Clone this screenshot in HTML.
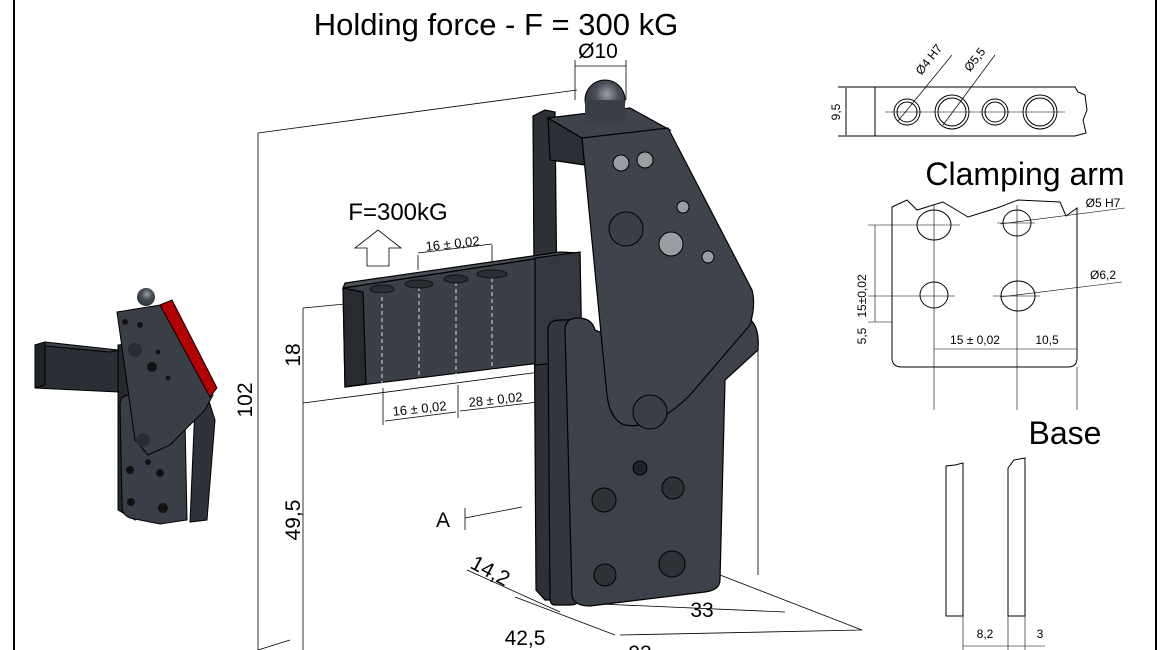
<!DOCTYPE html>
<html><head><meta charset="utf-8"><style>
html,body{margin:0;padding:0;background:#fff;}
svg{display:block;font-family:"Liberation Sans","DejaVu Sans",sans-serif;}
</style></head><body>
<svg width="1170" height="650" viewBox="0 0 1170 650" xmlns="http://www.w3.org/2000/svg">
<defs>
<radialGradient id="ball" cx="0.55" cy="0.35" r="0.7"><stop offset="0" stop-color="#9aa0a8"/><stop offset="0.4" stop-color="#4a4f58"/><stop offset="1" stop-color="#2a2d33"/></radialGradient>
</defs>
<rect width="1170" height="650" fill="#fff"/>
<line x1="14" y1="0" x2="14" y2="650" stroke="#000" stroke-width="2"/>
<line x1="1156" y1="0" x2="1156" y2="650" stroke="#000" stroke-width="2"/>

<text x="496" y="35" font-size="31" text-anchor="middle">Holding force - F = 300 kG</text>

<!-- small iso view -->
<g stroke="#000" stroke-width="1">
<polygon points="118,345 135,343 135,520 118,510" fill="#25282d"/>
<polygon points="35,345 110,352 118,350 118,392 35,388" fill="#2b2e34"/>
<polygon points="35,345 45,342 118,350 110,352" fill="#3c4048"/>
<polygon points="35,345 45,342 45,385 35,388" fill="#1f2226"/>
<polygon points="195,405 208,398 215,420 207,520 190,522" fill="#2f3238"/>
<path d="M120,405 Q120,395 130,395 L185,420 L187,520 L160,524 L130,518 Q122,515 122,505 Z" fill="#3a3e46"/>
<polygon points="117,312 160,305 213,395 205,410 170,445 148,455 135,440" fill="#3a3e46"/>
<polygon points="160,305 172,300 217,388 210,397" fill="#b30000"/>
</g>
<circle cx="146" cy="297" r="9" fill="url(#ball)"/>
<g fill="#111"><circle cx="125" cy="322" r="3"/><circle cx="140" cy="325" r="3"/><circle cx="135" cy="350" r="7" fill="#2a2c31"/><circle cx="152" cy="367" r="5"/><circle cx="158" cy="352" r="2.5"/><circle cx="168" cy="378" r="2.5"/><circle cx="143" cy="440" r="7" fill="#2a2c31"/><circle cx="130" cy="470" r="4"/><circle cx="160" cy="473" r="4"/><circle cx="131" cy="502" r="4"/><circle cx="163" cy="508" r="5"/><circle cx="148" cy="462" r="3"/></g>

<!-- main dims lines -->
<g stroke="#000" stroke-width="0.8" fill="none">
<line x1="258" y1="133" x2="577" y2="90"/>
<line x1="258" y1="133" x2="258" y2="650"/>
<line x1="303" y1="308" x2="303" y2="650"/>
<line x1="303" y1="308" x2="345" y2="304"/>
<line x1="303" y1="403" x2="540" y2="372"/>
<line x1="383" y1="388" x2="383" y2="425"/>
<line x1="458" y1="385" x2="458" y2="418"/>
<line x1="385" y1="421" x2="456" y2="412"/>
<line x1="460" y1="411" x2="600" y2="395"/>
<line x1="758" y1="340" x2="758" y2="575"/>
<line x1="575" y1="60" x2="575" y2="100"/>
<line x1="626" y1="60" x2="626" y2="100"/>
<line x1="575" y1="66" x2="626" y2="66"/>
<line x1="418" y1="255" x2="418" y2="270"/>
<line x1="492" y1="245" x2="492" y2="268"/>
<line x1="418" y1="253" x2="492" y2="244"/>
<line x1="465" y1="508" x2="465" y2="530"/>
<line x1="465" y1="518" x2="522" y2="507"/>
<line x1="467" y1="570" x2="560" y2="612"/>
<line x1="515" y1="597" x2="615" y2="635"/>
<line x1="565" y1="603" x2="585" y2="604"/>
<line x1="620" y1="635" x2="862" y2="630"/>
<line x1="720" y1="575" x2="862" y2="630"/>
<line x1="600" y1="604" x2="785" y2="612"/>
<line x1="258" y1="650" x2="290" y2="640"/>
</g>
<g font-size="21">
<text transform="translate(252,400) rotate(-90)" text-anchor="middle">102</text>
<text transform="translate(300,355) rotate(-90)" text-anchor="middle">18</text>
<text transform="translate(300,520) rotate(-90)" text-anchor="middle">49,5</text>
<text x="443" y="527" text-anchor="middle">A</text>
<text transform="translate(487,577) rotate(28)" text-anchor="middle">14,2</text>
<text x="525" y="645" text-anchor="middle">42,5</text>
<text x="702" y="617" text-anchor="middle">33</text>
<text x="640" y="660" text-anchor="middle">92</text>
<text x="598" y="58" text-anchor="middle">Ø10</text>
</g>
<text x="398" y="220" font-size="24" text-anchor="middle">F=300kG</text>
<polygon points="378,230 401,248 389,248 389,266 367,266 367,248 355,248" fill="#fff" stroke="#000" stroke-width="0.8"/>
<text x="453" y="248" font-size="13" text-anchor="middle" transform="rotate(-6 453 248)">16 ± 0,02</text>
<text x="420" y="413" font-size="13" text-anchor="middle" transform="rotate(-6 420 413)">16 ± 0,02</text>
<text x="496" y="404" font-size="13" text-anchor="middle" transform="rotate(-6 496 404)">28 ±  0,02</text>

<!-- main part -->
<g stroke="#000" stroke-width="1.2">
<polygon points="533,116 545,110 555,112 560,600 545,600 536,590" fill="#2d3036"/>
<polygon points="343,288 540,258 580,253 580,360 540,363 345,387" fill="#3b3f47"/>
<polygon points="343,288 363,292 366,384 345,387" fill="#272a2f"/>
<polygon points="343,288 540,258 580,253 560,252 345,283" fill="#4a4f58"/>
<polygon points="535,258 580,252 582,360 535,365" fill="#34373e"/>
<polygon points="548,118 630,108 670,130 585,140" fill="#3f434b"/>
<polygon points="548,118 585,140 585,165 550,160" fill="#2c2f35"/>
<path d="M548,330 Q548,320 560,320 L575,320 L578,600 Q578,605 570,605 L555,605 Q550,605 550,598 Z" fill="#33363c"/>
<path d="M565,330 Q565,318 578,318 Q592,318 595,330 L700,370 L748,318 Q760,325 758,350 L725,380 L720,580 Q720,590 705,592 L590,606 Q573,606 572,595 Z" fill="#3d4149"/>
<path d="M582,138 L668,128 L752,290 Q756,305 750,325 L690,395 Q655,430 625,425 Q610,420 607,395 Z" fill="#3f434b"/>
</g>
<circle cx="605" cy="100" r="20" fill="url(#ball)" stroke="#000"/>
<rect x="585" y="100" width="40" height="25" fill="#3a3e45"/>
<g stroke="#000" stroke-width="1">
<circle cx="621" cy="163" r="8" fill="#9a9da2"/><circle cx="645" cy="160" r="8" fill="#9a9da2"/>
<circle cx="683" cy="207" r="6" fill="#9a9da2"/><circle cx="708" cy="257" r="6" fill="#9a9da2"/>
<circle cx="671" cy="244" r="12" fill="#9a9da2"/>
<circle cx="626" cy="229" r="17" fill="#3a3e45"/>
<circle cx="650" cy="412" r="17" fill="#3a3e45"/>
<circle cx="640" cy="468" r="7" fill="#1f2226"/>
<circle cx="604" cy="500" r="12" fill="#2e3136"/><circle cx="673" cy="488" r="11" fill="#2e3136"/>
<circle cx="605" cy="575" r="11" fill="#2e3136"/><circle cx="672" cy="564" r="13" fill="#2e3136"/>
</g>
<g stroke="#ddd" stroke-width="1" stroke-dasharray="4,3">
<line x1="382" y1="290" x2="382" y2="386"/><line x1="419" y1="287" x2="419" y2="382"/>
<line x1="456" y1="282" x2="456" y2="378"/><line x1="492" y1="278" x2="492" y2="374"/>
</g>
<g fill="#2a2d33" stroke="#111"><ellipse cx="382" cy="289" rx="12" ry="4"/><ellipse cx="419" cy="284" rx="14" ry="4"/><ellipse cx="456" cy="279" rx="12" ry="4"/><ellipse cx="492" cy="274" rx="15" ry="4"/></g>

<!-- clamping arm view -->
<g stroke="#000" stroke-width="1" fill="none">
<path d="M875,87 L1075,87 L1078,92 L1085,95 L1087,110 L1083,120 L1086,133 L1075,136 L875,136 Z"/>
<line x1="838" y1="87" x2="875" y2="87"/><line x1="838" y1="136" x2="875" y2="136"/>
<line x1="846" y1="88" x2="846" y2="135"/>
<line x1="885" y1="112" x2="1065" y2="112" stroke-width="0.6"/>
<circle cx="907" cy="112" r="13"/><circle cx="907" cy="112" r="10"/>
<circle cx="952" cy="112" r="17"/><circle cx="952" cy="112" r="14"/>
<circle cx="995" cy="112" r="13"/><circle cx="995" cy="112" r="10"/>
<circle cx="1040" cy="112" r="17"/><circle cx="1040" cy="112" r="14"/>
<line x1="898" y1="121" x2="952" y2="55" stroke-width="0.7"/>
<line x1="943" y1="125" x2="995" y2="55" stroke-width="0.7"/>
</g>
<text transform="translate(840,112) rotate(-90)" font-size="12" text-anchor="middle">9,5</text>
<text transform="translate(932,62) rotate(-52)" font-size="12" text-anchor="middle">Ø4 H7</text>
<text transform="translate(978,62) rotate(-52)" font-size="12" text-anchor="middle">Ø5,5</text>
<text x="1025" y="185" font-size="32" text-anchor="middle">Clamping arm</text>

<!-- base view -->
<g stroke="#000" stroke-width="1" fill="none">
<path d="M892,207 L907,200 L917,210 L943,202 L968,217 L997,208 L1018,200 L1060,202 L1066,216 L1077,208 L1077,358 Q1077,367 1068,367 L902,367 Q892,367 892,358 Z"/>
<ellipse cx="934" cy="225" rx="17" ry="15"/><ellipse cx="1017" cy="223" rx="14" ry="13"/>
<ellipse cx="934" cy="295" rx="14" ry="13"/><ellipse cx="1018" cy="296" rx="17" ry="15"/>
<g stroke-width="0.6">
<line x1="915" y1="225" x2="960" y2="225"/><line x1="934" y1="205" x2="934" y2="410"/>
<line x1="997" y1="223" x2="1035" y2="223"/><line x1="1017" y1="205" x2="1017" y2="410"/>
<line x1="920" y1="296" x2="955" y2="296"/><line x1="993" y1="296" x2="1040" y2="296"/>
<line x1="868" y1="225" x2="915" y2="225"/><line x1="868" y1="296" x2="920" y2="296"/><line x1="868" y1="322" x2="892" y2="322"/>
<line x1="875" y1="225" x2="875" y2="322"/>
<line x1="1077" y1="367" x2="1077" y2="410"/>
<line x1="934" y1="349" x2="1077" y2="349"/>
<line x1="1000" y1="224" x2="1125" y2="208"/>
<line x1="1000" y1="297" x2="1122" y2="282"/>
</g>
</g>
<text transform="translate(866,296) rotate(-90)" font-size="12" text-anchor="middle">15±0,02</text>
<text transform="translate(866,336) rotate(-90)" font-size="12" text-anchor="middle">5,5</text>
<text x="975" y="344" font-size="12" text-anchor="middle">15 ± 0,02</text>
<text x="1047" y="344" font-size="12" text-anchor="middle">10,5</text>
<text x="1103" y="207" font-size="12" text-anchor="middle">Ø5 H7</text>
<text x="1103" y="279" font-size="12" text-anchor="middle">Ø6,2</text>
<text x="1065" y="444" font-size="32" text-anchor="middle">Base</text>

<g stroke="#000" stroke-width="1" fill="none">
<path d="M946,616 L946,466 L955,465 L963,463 L963,616 Z"/>
<path d="M1008,616 L1008,468 L1014,460 L1025,458 L1025,616 Z"/>
<line x1="963" y1="616" x2="963" y2="650" stroke-width="0.6"/>
<line x1="1008" y1="616" x2="1008" y2="650" stroke-width="0.6"/>
<line x1="1025" y1="616" x2="1025" y2="650" stroke-width="0.6"/>
<line x1="963" y1="646" x2="1045" y2="646" stroke-width="0.6"/>
</g>
<text x="985" y="638" font-size="12" text-anchor="middle">8,2</text>
<text x="1040" y="638" font-size="12" text-anchor="middle">3</text>
</svg>
</body></html>
